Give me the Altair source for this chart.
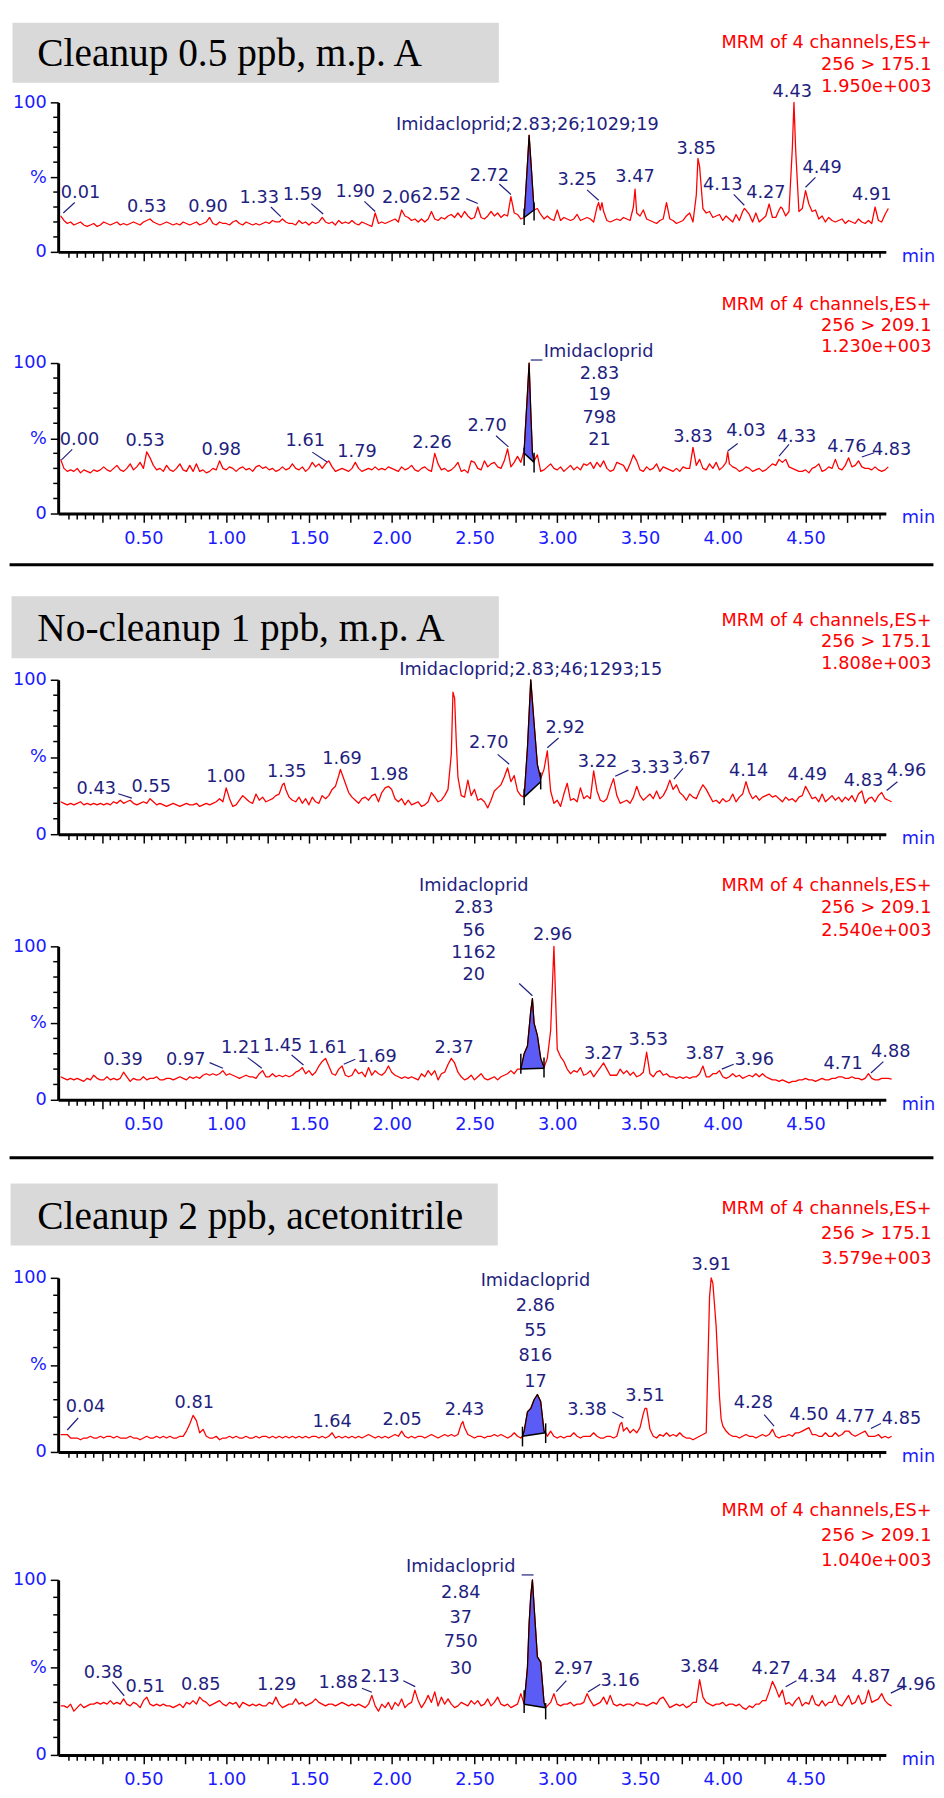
import altair as alt
import pandas as pd

RED = "#ff0000"
BLUE = "#1a1aff"
NAVY = "#1f1f80"
FILL = "#5b5bf5"
BOXC = "#d9d9d9"
SANS = "DejaVu Sans"
SERIF = "Liberation Serif"

# ---------------- tick labels ----------------
X_MAJOR = [round(0.25 * i, 2) for i in range(1, 20)]
X_MINOR = [round(0.05 * i, 2) for i in range(1, 100) if i % 5 != 0]
Y_MAJOR = [0, 50, 100]
Y_MINOR = [10, 20, 30, 40, 60, 70, 80, 90]

# ---------------- traces (% intensity, every 0.02 min from 0.00) ----------------
P1_BASE = [
    24, 21, 19, 20, 18, 19, 20, 18, 17, 18,
    19, 17, 18, 20, 19, 18, 19, 20, 18, 19,
    18, 19, 20, 19, 18, 20, 21, 22, 20, 19,
    18, 19, 20, 19, 18, 19, 18, 20, 19, 18,
    19, 20, 18, 19, 20, 23, 19, 18, 20, 19,
    19, 18, 20, 21, 19, 18, 20, 19, 18, 19,
    18, 19, 20, 19, 21, 20, 20, 22, 20, 19,
    19, 18, 21, 19, 20, 18, 20, 19, 20, 23,
    20, 19, 20, 18, 21, 19, 20, 19, 21, 19,
    18, 20, 19, 18, 17, 26, 19, 20, 19, 20,
    21, 22, 20, 28, 24, 23, 21, 22, 20, 22,
    20, 22, 27, 22, 21, 23, 22, 24, 25, 23,
    26, 23, 27, 24, 22, 23, 30, 23, 22, 24,
    27, 24, 26, 23, 25, 24, 37, 26, 25, 22,
    23, 59, 62, 28, 29, 25, 22, 24, 22, 21,
    28, 21, 23, 22, 21, 22, 25, 21, 22, 23,
    22, 20, 30, 28, 27, 21, 20, 21, 22, 21,
    23, 22, 21, 30, 26, 24, 28, 22, 21, 20,
    19, 21, 22, 33, 22, 21, 19, 20, 21, 24,
    26, 20, 38, 57, 29, 26, 27, 23, 24, 25,
    21, 24, 22, 20, 25, 21, 27, 28, 25, 20,
    26, 20, 22, 24, 32, 23, 23, 28, 29, 24,
    27, 69, 69, 27, 29, 41, 32, 27, 28, 22,
    24, 20, 23, 21, 20, 21, 22, 19, 21, 20,
    19, 22, 20, 19, 21, 19, 30, 21, 20,
]
P1_EXTRA = [(2.83, 78), (3.25, 33), (3.27, 33), (3.47, 42), (3.85, 62.5), (4.13, 29),
            (4.35, 30), (4.43, 100), (4.98, 25), (5.00, 29)]

P2_BASE = [
    36, 30, 28, 29, 28, 30, 27, 29, 28, 27,
    29, 28, 29, 31, 29, 28, 30, 32, 29, 28,
    30, 33, 29, 31, 34, 30, 41, 37, 32, 29,
    30, 28, 32, 29, 28, 30, 33, 29, 28, 32,
    28, 33, 28, 29, 27, 28, 30, 29, 35, 30,
    29, 31, 30, 28, 30, 31, 29, 30, 28, 31,
    32, 30, 31, 29, 30, 28, 29, 31, 29, 30,
    33, 30, 29, 31, 28, 30, 34, 31, 33, 30,
    33, 35, 31, 28, 29, 30, 29, 28, 30, 34,
    30, 28, 29, 30, 29, 31, 29, 30, 29, 31,
    30, 29, 28, 31, 29, 30, 32, 29, 28, 30,
    31, 29, 28, 40, 33, 29, 30, 28, 29, 31,
    34, 28, 29, 27, 35, 34, 30, 29, 35, 31,
    33, 34, 31, 30, 35, 43, 31, 34, 38, 34,
    42, 80, 68, 35, 39, 28, 29, 31, 33, 30,
    29, 31, 28, 30, 32, 29, 31, 29, 33, 32,
    34, 30, 34, 31, 35, 30, 28, 29, 34, 33,
    32, 28, 33, 39, 35, 29, 28, 31, 29, 30,
    33, 28, 31, 30, 29, 28, 30, 28, 31, 30,
    30, 44, 32, 36, 30, 29, 33, 30, 34, 29,
    31, 34, 33, 31, 30, 28, 29, 31, 30, 28,
    29, 30, 28, 29, 31, 33, 32, 36, 34, 36,
    31, 30, 29, 28, 28, 29, 27, 30, 31, 33,
    28, 29, 31, 30, 36, 30, 29, 32, 37, 31,
    32, 35, 31, 30, 30, 29, 31, 29, 28,
]
P2_EXTRA = [(2.83, 100), (2.85, 40), (4.03, 41), (4.98, 29), (5.00, 31)]

P3_BASE = [
    21, 20, 19, 20, 19, 20, 21, 19, 20, 19,
    20, 19, 20, 19, 20, 19, 21, 20, 22, 20,
    21, 22, 20, 19, 20, 21, 20, 23, 21, 19,
    20, 19, 18, 19, 20, 19, 18, 19, 20, 19,
    19, 20, 18, 19, 20, 19, 20, 21, 23, 21,
    30, 23, 18, 19, 22, 25, 23, 21, 20, 26,
    22, 24, 21, 22, 23, 25, 26, 32, 29, 24,
    22, 21, 24, 20, 23, 19, 24, 21, 20, 25,
    23, 25, 29, 31, 38, 39, 33, 27, 24, 22,
    20, 23, 24, 22, 25, 26, 21, 27, 30, 31,
    29, 23, 21, 23, 19, 22, 19, 20, 21, 18,
    19, 21, 27, 24, 21, 22, 25, 29, 52, 88,
    37, 25, 24, 35, 25, 29, 22, 23, 21, 17,
    22, 28, 30, 32, 37, 43, 34, 38, 28, 25,
    24, 56, 100, 72, 45, 36, 42, 54, 28, 20,
    22, 18, 26, 33, 22, 23, 21, 30, 23, 25,
    23, 41, 28, 22, 21, 23, 30, 36, 25, 20,
    21, 22, 20, 24, 31, 25, 22, 24, 26, 23,
    28, 23, 25, 29, 35, 29, 32, 27, 25, 22,
    26, 24, 23, 28, 32, 29, 25, 21, 22, 20,
    23, 21, 22, 26, 21, 24, 26, 34, 27, 23,
    25, 22, 24, 25, 26, 24, 25, 23, 21, 24,
    22, 23, 21, 24, 25, 31, 27, 23, 24, 21,
    26, 21, 23, 25, 22, 24, 21, 24, 22, 25,
    21, 26, 28, 20, 23, 24, 21, 25, 27,
]
P3_EXTRA = [(1.35, 33), (1.69, 42), (2.37, 92), (2.39, 60), (4.98, 23), (5.00, 22), (5.02, 21)]

P4_BASE = [
    15, 14, 13, 14, 13, 14, 13, 12, 14, 13,
    16, 14, 13, 13, 15, 13, 14, 13, 14, 18,
    15, 12, 14, 13, 13, 15, 13, 14, 14, 15,
    13, 13, 14, 14, 13, 14, 15, 14, 13, 15,
    14, 15, 14, 16, 17, 16, 17, 16, 17, 19,
    16, 17, 16, 15, 14, 15, 16, 15, 15, 14,
    17, 19, 15, 15, 17, 15, 16, 15, 16, 15,
    16, 18, 19, 21, 17, 19, 16, 18, 22, 25,
    27, 22, 17, 16, 20, 22, 16, 15, 16, 20,
    17, 18, 15, 21, 16, 19, 17, 16, 18, 22,
    18, 16, 15, 14, 15, 14, 15, 14, 13, 17,
    15, 19, 16, 19, 13, 17, 18, 23, 27, 24,
    18, 15, 13, 14, 16, 13, 15, 17, 14, 13,
    14, 15, 13, 15, 16, 17, 19, 17, 20, 20,
    30, 35, 58, 50, 42, 27, 21, 27, 45, 100,
    33, 28, 25, 20, 17, 19, 18, 21, 16, 17,
    19, 15, 18, 21, 24, 20, 16, 16, 16, 20,
    17, 19, 16, 18, 15, 16, 18, 31, 17, 15,
    18, 19, 16, 17, 15, 15, 14, 15, 14, 15,
    14, 15, 15, 17, 22, 15, 15, 17, 17, 19,
    15, 14, 15, 17, 15, 16, 14, 15, 16, 15,
    17, 15, 17, 15, 14, 13, 13, 12, 13, 12,
    11, 12, 12, 13, 13, 14, 13, 13, 12, 13,
    14, 13, 13, 14, 14, 15, 15, 14, 14, 15,
    14, 14, 13, 14, 17, 14, 13, 13, 14,
]
P4_EXTRA = [(2.85, 66), (4.98, 14), (5.00, 14), (5.02, 13.5)]

P5_BASE = [
    10, 10, 10, 8, 8, 8, 7, 8, 8, 9,
    8, 8, 9, 8, 9, 9, 8, 9, 8, 8,
    8, 9, 8, 8, 7, 8, 9, 8, 8, 9,
    8, 9, 8, 9, 8, 8, 9, 9, 12, 16,
    21, 18, 11, 13, 9, 8, 8, 9, 7, 8,
    8, 9, 8, 9, 8, 8, 9, 8, 8, 9,
    8, 9, 9, 8, 9, 8, 9, 8, 9, 8,
    9, 8, 9, 8, 9, 8, 9, 9, 8, 9,
    8, 9, 11, 8, 9, 8, 9, 8, 9, 8,
    9, 8, 9, 10, 9, 8, 9, 8, 9, 8,
    9, 10, 9, 12, 9, 8, 9, 8, 9, 9,
    8, 9, 10, 9, 8, 9, 10, 9, 10, 9,
    10, 16, 14, 10, 9, 8, 9, 9, 8, 9,
    9, 10, 9, 10, 9, 8, 9, 11, 9, 8,
    12, 23, 25, 30, 33, 29, 12, 9, 12, 9,
    8, 9, 8, 9, 9, 11, 9, 8, 9, 9,
    9, 11, 9, 8, 8, 9, 9, 8, 9, 16,
    12, 14, 11, 13, 11, 14, 22, 25, 13, 9,
    8, 10, 9, 11, 9, 10, 9, 11, 9, 8,
    8, 7, 8, 9, 10, 11, 89, 97, 72, 32,
    15, 12, 10, 9, 9, 8, 9, 10, 9, 9,
    8, 9, 10, 9, 10, 13, 9, 8, 9, 9,
    10, 9, 11, 11, 12, 13, 14, 10, 10, 9,
    9, 11, 9, 9, 11, 9, 10, 12, 12, 10,
    9, 10, 11, 12, 9, 9, 9, 10, 8,
]
P5_EXTRA = [(2.43, 17.5), (2.79, 9), (2.93, 11), (3.39, 17), (3.53, 25), (3.93, 100),
            (3.99, 19), (4.98, 9), (5.00, 8), (5.02, 9)]

P6_BASE = [
    28, 28, 27, 29, 25, 27, 29, 27, 28, 29,
    29, 30, 29, 30, 29, 31, 29, 30, 29, 32,
    29, 28, 30, 29, 27, 31, 33, 29, 28, 29,
    28, 29, 28, 28, 27, 28, 29, 27, 30, 29,
    31, 29, 33, 31, 30, 28, 29, 30, 31, 29,
    28, 30, 29, 30, 27, 30, 29, 28, 29, 28,
    29, 28, 28, 30, 29, 33, 29, 27, 28, 29,
    29, 32, 29, 30, 28, 29, 30, 32, 30, 29,
    28, 29, 29, 28, 29, 30, 29, 28, 29, 28,
    29, 28, 27, 29, 34, 28, 25, 29, 27, 30,
    26, 30, 28, 32, 27, 29, 30, 37, 31, 27,
    30, 34, 30, 36, 28, 33, 29, 32, 29, 27,
    28, 30, 29, 28, 31, 29, 31, 28, 29, 32,
    28, 30, 33, 29, 28, 29, 27, 28, 29, 35,
    29, 50, 91, 85, 56, 53, 30, 28, 30, 35,
    29, 28, 29, 29, 30, 28, 29, 29, 30, 35,
    31, 28, 29, 30, 33, 29, 34, 29, 28, 29,
    28, 29, 29, 28, 30, 29, 29, 28, 29, 30,
    29, 32, 33, 30, 27, 28, 29, 28, 29, 27,
    28, 30, 30, 43, 33, 30, 29, 28, 29, 29,
    30, 28, 29, 29, 28, 29, 27, 26, 28, 27,
    29, 29, 31, 31, 36, 42, 38, 33, 37, 29,
    30, 28, 31, 33, 28, 30, 29, 34, 29, 28,
    31, 28, 30, 30, 34, 29, 28, 31, 34, 29,
    30, 34, 29, 30, 37, 30, 31, 32, 35,
]
P6_EXTRA = [(2.83, 75), (2.85, 100), (2.93, 27), (4.98, 31), (5.00, 29), (5.02, 28)]

# ---------------- peak labels: (text, time, %) ----------------
P1_LABELS = [("0.01", 0.12, 39), ("0.53", 0.52, 30), ("0.90", 0.89, 30), ("1.33", 1.20, 36),
             ("1.59", 1.46, 38), ("1.90", 1.78, 40), ("2.06", 2.06, 36), ("2.52", 2.30, 38),
             ("2.72", 2.59, 51), ("Imidacloprid;2.83;26;1029;19", 2.82, 85), ("3.25", 3.12, 48),
             ("3.47", 3.47, 50), ("3.85", 3.84, 69), ("4.13", 4.00, 45), ("4.27", 4.26, 39),
             ("4.43", 4.42, 107), ("4.49", 4.60, 56), ("4.91", 4.90, 38)]
P2_LABELS = [("0.00", 0.114, 48.7), ("0.53", 0.51, 48), ("0.98", 0.97, 42), ("1.61", 1.478, 48),
             ("1.79", 1.79, 41), ("2.26", 2.243, 46.5), ("2.70", 2.576, 58), ("Imidacloprid", 3.25, 107),
             ("2.83", 3.255, 92.8), ("19", 3.255, 78.6), ("798", 3.255, 63.3), ("21", 3.255, 48.7),
             ("3.83", 3.82, 51), ("4.03", 4.14, 54.6), ("4.33", 4.445, 51), ("4.76", 4.75, 44.3),
             ("4.83", 5.02, 42)]
P3_LABELS = [("0.43", 0.215, 29), ("0.55", 0.547, 30.4), ("1.00", 0.998, 36.8), ("1.35", 1.366, 40),
             ("1.69", 1.70, 48.5), ("1.98", 1.983, 38.3), ("2.70", 2.586, 58.7),
             ("Imidacloprid;2.83;46;1293;15", 2.84, 106.4), ("2.92", 3.048, 68.7), ("3.22", 3.243, 46.8),
             ("3.33", 3.56, 42.6), ("3.67", 3.81, 48.5), ("4.14", 4.156, 41), ("4.49", 4.51, 38.3),
             ("4.83", 4.85, 34.7), ("4.96", 5.11, 40.6)]
P4_LABELS = [("Imidacloprid", 2.496, 139.5), ("2.83", 2.496, 124.7), ("56", 2.496, 110.1),
             ("1162", 2.496, 95.5), ("20", 2.496, 81.1), ("2.96", 2.972, 107.5), ("0.39", 0.377, 25.8),
             ("0.97", 0.756, 25.8), ("1.21", 1.088, 33.5), ("1.45", 1.341, 35), ("1.61", 1.612, 33.5),
             ("1.69", 1.911, 28.1), ("2.37", 2.377, 33.5), ("3.27", 3.28, 30), ("3.53", 3.55, 38.6),
             ("3.87", 3.893, 29.6), ("3.96", 4.19, 25.8), ("4.71", 4.727, 23.6), ("4.88", 5.015, 31.3)]
P5_LABELS = [("0.04", 0.15, 25.8), ("0.81", 0.807, 28.2), ("1.64", 1.64, 17.3), ("2.05", 2.063, 18.2),
             ("2.43", 2.44, 23.9), ("Imidacloprid", 2.868, 98.1), ("2.86", 2.868, 84), ("55", 2.868, 69.4),
             ("816", 2.868, 54.9), ("17", 2.868, 40.2), ("3.38", 3.18, 23.9), ("3.51", 3.53, 32),
             ("3.91", 3.93, 107.5), ("4.28", 4.185, 28.2), ("4.50", 4.52, 21.1), ("4.77", 4.80, 20.1),
             ("4.85", 5.08, 18.8)]
P6_LABELS = [("Imidacloprid", 2.417, 107.1), ("2.84", 2.417, 92.5), ("37", 2.417, 78), ("750", 2.417, 64.4),
             ("30", 2.417, 49.3), ("0.38", 0.258, 46.5), ("0.51", 0.511, 39), ("0.85", 0.846, 40),
             ("1.29", 1.305, 40), ("1.88", 1.677, 40.9), ("2.13", 1.93, 44.3), ("2.97", 3.10, 49.3),
             ("3.16", 3.38, 42.4), ("3.84", 3.86, 49.9), ("4.27", 4.293, 49.3), ("4.34", 4.57, 44.3),
             ("4.87", 4.896, 44.3), ("4.96", 5.167, 40)]

# ---------------- leader lines: (t1, %1, t2, %2) ----------------
P1_LEADERS = [(0.085, 33, 0.016, 26), (1.27, 30, 1.33, 23.6), (1.514, 32.3, 1.586, 25.3),
              (1.835, 33.8, 1.90, 27), (2.45, 35.6, 2.52, 32.3), (2.65, 45.4, 2.72, 38.4),
              (3.18, 41.5, 3.25, 34.5), (4.066, 38.4, 4.13, 31.2), (4.56, 49.8, 4.50, 43.2)]
P2_LEADERS = [(0.07, 42.6, 0.005, 35.6), (1.52, 40.8, 1.61, 34.3), (2.63, 51.7, 2.705, 44.3),
              (4.09, 46.5, 4.03, 41.5), (4.40, 45.9, 4.34, 38.2), (4.915, 40.4, 4.84, 37.6),
              (2.84, 102, 2.91, 102)]
P3_LEADERS = [(0.348, 26.2, 0.43, 23.4), (2.64, 51.7, 2.71, 45.3), (3.008, 62.3, 2.94, 56),
              (3.35, 37.5, 3.43, 41.5), (3.76, 42.6, 3.705, 35.7), (5.055, 34, 4.99, 28.3)]
P4_LEADERS = [(0.90, 24.2, 0.98, 20.6), (1.13, 27.5, 1.215, 20.6), (1.395, 29.2, 1.467, 22.7),
              (1.78, 26.4, 1.71, 23.2), (2.77, 75.8, 2.85, 67.8), (4.066, 23.2, 3.994, 20),
              (4.97, 24.9, 4.895, 17.5)]
P5_LEADERS = [(0.106, 19.5, 0.04, 12.6), (3.333, 22.9, 3.40, 19.5), (4.25, 21.4, 4.31, 14.8),
              (4.955, 16.4, 4.895, 13.5)]
P6_LEADERS = [(0.312, 41.8, 0.384, 33.8), (1.82, 38.1, 1.88, 35.8), (2.07, 42.4, 2.142, 39),
              (3.055, 42.4, 2.994, 36.2), (3.185, 36, 3.26, 40.3), (4.445, 42.4, 4.38, 39),
              (5.095, 39, 5.015, 35.3), (2.785, 102.8, 2.857, 102.8)]

# integrated peak: start, end, baseline % at start/end, start tick lo/hi, end tick lo/hi
P1_PEAK = (2.80, 2.86, 23, 28, 18, 29, 21, 33)
P2_PEAK = (2.80, 2.86, 40, 34, 31.7, 43.7, 27.3, 40.4)
P3_PEAK = (2.80, 2.90, 24, 34, 18.7, 29.4, 29, 40)
P4_PEAK = (2.78, 2.92, 20, 20.5, 17, 30, 14.6, 27.5)
P5_PEAK = (2.79, 2.93, 9, 11, 3.2, 14.5, 5.1, 16.4)
P6_PEAK = (2.80, 2.93, 29, 27, 24, 37, 20.3, 29.6)

HEADERS = [
    ["MRM of 4 channels,ES+", "256 > 175.1", "1.950e+003"],
    ["MRM of 4 channels,ES+", "256 > 209.1", "1.230e+003"],
    ["MRM of 4 channels,ES+", "256 > 175.1", "1.808e+003"],
    ["MRM of 4 channels,ES+", "256 > 209.1", "2.540e+003"],
    ["MRM of 4 channels,ES+", "256 > 175.1", "3.579e+003"],
    ["MRM of 4 channels,ES+", "256 > 209.1", "1.040e+003"],
]
TITLES = ["Cleanup 0.5 ppb, m.p. A", None, "No-cleanup 1 ppb, m.p. A", None,
          "Cleanup 2 ppb, acetonitrile", None]

# horizontal pixel factor (the page is photographed slightly shrunk)
KX = 1.0089

# layout (pixels relative to each plot area); hy = centre of first header line
LAYOUT = [
    dict(h=152, top=-81, bot=181, hy=-60, lh=22, xl=False, sep=None, box=(-46, 444, -81, -20), ty=-37),
    dict(h=153, top=-84, bot=209, hy=-59, lh=21.5, xl=True, sep=205),
    dict(h=157, top=-113, bot=194, hy=-60, lh=22, xl=False, sep=None, box=(-47, 444, -85, -22), ty=-39),
    dict(h=156, top=-77, bot=219, hy=-61, lh=22.5, xl=True, sep=215),
    dict(h=177, top=-118, bot=200, hy=-70, lh=25.5, xl=False, sep=None, box=(-48, 443, -96, -33), ty=-50),
    dict(h=178, top=-107, bot=215, hy=-70, lh=25.5, xl=True, sep=None),
]

DATA = [
    (P1_BASE, P1_EXTRA, P1_LABELS, P1_LEADERS, P1_PEAK),
    (P2_BASE, P2_EXTRA, P2_LABELS, P2_LEADERS, P2_PEAK),
    (P3_BASE, P3_EXTRA, P3_LABELS, P3_LEADERS, P3_PEAK),
    (P4_BASE, P4_EXTRA, P4_LABELS, P4_LEADERS, P4_PEAK),
    (P5_BASE, P5_EXTRA, P5_LABELS, P5_LEADERS, P5_PEAK),
    (P6_BASE, P6_EXTRA, P6_LABELS, P6_LEADERS, P6_PEAK),
]

W = round(834 * KX, 1)
XS = alt.Scale(domain=[-0.015, 4.985], nice=False, zero=False)
YS = alt.Scale(domain=[0, 100], nice=False, zero=False)
ONE = pd.DataFrame({"a": [0]})


def px(v):
    return round(v * KX, 1)


def trace_df(base, extra):
    d = {}
    for i, v in enumerate(base):
        d[round(i * 0.02, 3)] = v
    for t, v in extra:
        d[round(t, 3)] = v
    ts = sorted(d)
    return pd.DataFrame({"t": ts, "v": [d[t] for t in ts]})


def make_panel(i):
    base, extra, labels, leaders, peak = DATA[i]
    L = LAYOUT[i]
    H = L["h"]
    tr = trace_df(base, extra)
    t1, t2, b1, b2, slo, shi, elo, ehi = peak
    seg = tr[(tr.t >= t1 - 1e-9) & (tr.t <= t2 + 1e-9)].copy()
    seg["b"] = b1 + (b2 - b1) * (seg["t"] - t1) / (t2 - t1)

    xax = alt.Axis(values=X_MAJOR, tickSize=9, tickWidth=1.5, tickColor="black",
                   domainColor="black", domainWidth=3, grid=False, labels=L["xl"],
                   labelExpr="abs(datum.value*2 - round(datum.value*2)) < 0.01 ? format(datum.value, '.2f') : ''",
                   labelFont=SANS, labelFontSize=18, labelColor=BLUE, labelPadding=7,
                   labelOverlap=False, labelFlush=False, title=None)
    yax = alt.Axis(values=Y_MAJOR, tickSize=8, tickWidth=1.5, tickColor="black",
                   domainColor="black", domainWidth=3, grid=False,
                   labelExpr="datum.value == 100 ? '100' : (datum.value == 50 ? '%' : '0')",
                   labelFont=SANS, labelFontSize=18, labelColor=BLUE, labelPadding=4,
                   labelOverlap=False, title=None)

    def X(field="t"):
        return alt.X(field + ":Q", scale=XS, axis=xax)

    def Y(field="v"):
        return alt.Y(field + ":Q", scale=YS, axis=yax)

    layers = []
    layers.append(alt.Chart(seg).mark_area(color=FILL, opacity=1).encode(
        x=X(), y=Y(), y2="b:Q"))
    layers.append(alt.Chart(tr).mark_line(color=RED, strokeWidth=1.3, strokeJoin="round").encode(
        x=X(), y=Y()))
    layers.append(alt.Chart(seg).mark_line(color="black", strokeWidth=1.2, strokeJoin="round").encode(
        x=X(), y=Y()))
    layers.append(alt.Chart(pd.DataFrame({"t": [t1], "v": [b1], "t2": [t2], "v2": [b2]}))
                  .mark_rule(color="black", strokeWidth=1.5)
                  .encode(x=X(), y=Y(), x2="t2:Q", y2="v2:Q"))
    layers.append(alt.Chart(pd.DataFrame({"t": [t1, t2], "v": [slo, elo], "v2": [shi, ehi]}))
                  .mark_rule(color="black", strokeWidth=1.5)
                  .encode(x=X(), y=Y(), y2="v2:Q"))
    ld = pd.DataFrame(leaders, columns=["t", "v", "t2", "v2"])
    layers.append(alt.Chart(ld).mark_rule(color=NAVY, strokeWidth=1.2)
                  .encode(x=X(), y=Y(), x2="t2:Q", y2="v2:Q"))
    lb = pd.DataFrame(labels, columns=["txt", "t", "v"])
    layers.append(alt.Chart(lb).mark_text(color=NAVY, font=SANS, fontSize=18, baseline="middle",
                                          align="center")
                  .encode(x=X(), y=Y(), text="txt:N"))
    layers.append(alt.Chart(pd.DataFrame({"t": X_MINOR})).mark_rule(color="black", strokeWidth=1.5)
                  .encode(x=X(), y=alt.value(H + 1), y2=alt.value(H + 6)))
    layers.append(alt.Chart(pd.DataFrame({"v": Y_MINOR})).mark_rule(color="black", strokeWidth=1.5)
                  .encode(y=Y(), x=alt.value(-5), x2=alt.value(0)))
    layers.append(alt.Chart(ONE).mark_text(text=HEADERS[i], x=px(880), y=L["hy"], align="right",
                                           baseline="middle", lineHeight=L["lh"], font=SANS,
                                           fontSize=18, color=RED))
    layers.append(alt.Chart(ONE).mark_text(text="min", x=px(850), y=H + 10, align="left",
                                           baseline="alphabetic", font=SANS, fontSize=18,
                                           color=BLUE))
    if TITLES[i]:
        bx1, bx2, by1, by2 = L["box"]
        layers.append(alt.Chart(ONE).mark_rect(color=BOXC).encode(
            x=alt.value(px(bx1)), x2=alt.value(px(bx2)), y=alt.value(by1), y2=alt.value(by2)))
        layers.append(alt.Chart(ONE).mark_text(text=TITLES[i], x=px(-21), y=L["ty"], align="left",
                                               baseline="alphabetic", font=SERIF, fontSize=40,
                                               color="black"))
    if L["sep"] is not None:
        layers.append(alt.Chart(ONE).mark_rule(color="black", strokeWidth=3).encode(
            x=alt.value(px(-49)), x2=alt.value(px(882)), y=alt.value(L["sep"])))
    layers.append(alt.Chart(ONE).mark_rule(opacity=0, strokeWidth=1).encode(
        x=alt.value(px(-49)), y=alt.value(L["top"]), y2=alt.value(L["bot"])))
    return alt.layer(*layers).properties(width=W, height=H)


chart = alt.vconcat(*[make_panel(i) for i in range(6)], spacing=0).properties(
    padding={"left": 0, "top": 0, "right": 0, "bottom": 0}
).configure_view(strokeWidth=0)

chart.save("out.html", embed_options={"renderer": "svg", "actions": False})
